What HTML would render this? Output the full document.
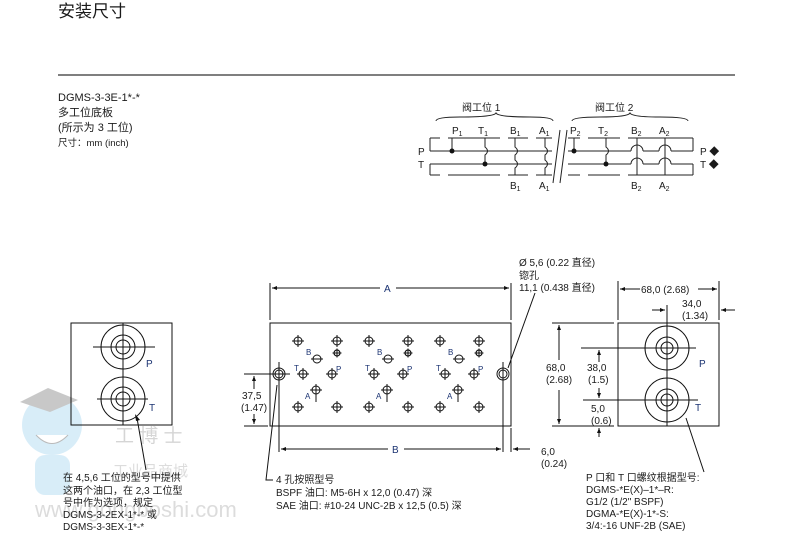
<!DOCTYPE html>
<html><head><meta charset="utf-8"><style>
body{margin:0;background:#fff}
svg{display:block}
text{font-family:"Liberation Sans","Noto Sans CJK SC",sans-serif;fill:#1a1a1a}
.b{fill:#1b3372}
</style></head><body>
<svg width="793" height="533" viewBox="0 0 793 533" xmlns="http://www.w3.org/2000/svg">
<defs>
<marker id="ar" viewBox="0 0 10 10" refX="10" refY="5" markerWidth="7" markerHeight="5" orient="auto-start-reverse"><path d="M0,1 L10,5 L0,9 z" fill="#111"/></marker>
<g id="ch"><circle r="4" fill="none" stroke="#111" stroke-width="1"/><line x1="-6" y1="0" x2="6" y2="0" stroke="#111"/><line x1="0" y1="-6" x2="0" y2="6" stroke="#111"/></g>
<g id="cs"><circle r="3" fill="none" stroke="#111" stroke-width="1.2"/><line x1="-4.5" y1="0" x2="4.5" y2="0" stroke="#111"/><line x1="0" y1="-4.5" x2="0" y2="4.5" stroke="#111"/></g>
</defs>
<!-- watermark -->
<g opacity="0.4">
<circle cx="52" cy="425" r="30" fill="#9fd3f0"/>
<path d="M20,402 L48,388 L78,400 L50,412 z" fill="#777"/>
<path d="M36,435 Q52,452 68,435" fill="#fff" stroke="#555"/>
<rect x="35" y="455" width="35" height="40" rx="10" fill="#9fd3f0"/>
<text x="115" y="442" font-size="19" style="fill:#999">工 博 士</text>
<text x="113" y="476" font-size="15" style="fill:#aaa">工业品商城</text>
<text x="35" y="517" font-size="22" style="fill:#aaa">www.gongboshi.com</text>
</g>

<text x="58" y="17" font-size="17">安装尺寸</text>
<line x1="58" y1="75" x2="735" y2="75" stroke="#555" stroke-width="1.5"/>
<text x="58" y="101" font-size="11">DGMS-3-3E-1*-*</text>
<text x="58" y="116" font-size="11">多工位底板</text>
<text x="58" y="131" font-size="11">(所示为 3 工位)</text>
<text x="58" y="146" font-size="9.5">尺寸：mm (inch)</text>

<!-- circuit -->
<g stroke="#222" stroke-width="1" fill="none">
<path d="M436,121 Q436,117 460,117 Q494,117 496,113 Q498,117 530,117 Q553,117 553,121"/>
<path d="M572,121 Q572,117 600,117 Q628,117 630,113 Q632,117 660,117 Q688,117 688,121"/>
<path d="M430,138 H440 M448,138 H500 M508,138 H528 M536,138 H552 M568,138 H580 M588,138 H620 M628,138 H693"/>
<path d="M430,175 H440 M448,175 H500 M508,175 H528 M536,175 H552 M568,175 H580 M588,175 H620 M628,175 H693"/>
<path d="M430,138 V151 M430,164 V175 M693,138 V151 M693,164 V175" />
<path d="M430,151 H552 M568,151 H631 M643,151 H659 M671,151 H693"/>
<path d="M430,164 H552 M568,164 H631 M643,164 H659 M671,164 H693"/>
<path d="M631,151 A6,6 0 0 1 643,151 M659,151 A6,6 0 0 1 671,151 M631,164 A6,6 0 0 1 643,164 M659,164 A6,6 0 0 1 671,164"/>
<path d="M452,138 V151 M574,138 V151 M485,138 V147 Q490,151 485,155 V164 M606,138 V147 Q611,151 606,155 V164"/>
<path d="M515,138 V147 Q520,151 515,155 V160 Q520,164 515,168 V175 M545,138 V147 Q550,151 545,155 V160 Q550,164 545,168 V175"/>
<path d="M637,138 V175 M665,138 V175"/>
<path d="M553,183 L560,130 M560,183 L567,130"/>
</g>
<g fill="#111"><circle cx="452" cy="151" r="2.5"/><circle cx="485" cy="164" r="2.5"/><circle cx="574" cy="151" r="2.5"/><circle cx="606" cy="164" r="2.5"/></g>
<g font-size="10">
<text x="462" y="111">阀工位 1</text><text x="595" y="111">阀工位 2</text>
<text x="452" y="134">P<tspan font-size="7" dy="2">1</tspan></text>
<text x="478" y="134">T<tspan font-size="7" dy="2">1</tspan></text>
<text x="510" y="134">B<tspan font-size="7" dy="2">1</tspan></text>
<text x="539" y="134">A<tspan font-size="7" dy="2">1</tspan></text>
<text x="570" y="134">P<tspan font-size="7" dy="2">2</tspan></text>
<text x="598" y="134">T<tspan font-size="7" dy="2">2</tspan></text>
<text x="631" y="134">B<tspan font-size="7" dy="2">2</tspan></text>
<text x="659" y="134">A<tspan font-size="7" dy="2">2</tspan></text>
<text x="510" y="189">B<tspan font-size="7" dy="2">1</tspan></text>
<text x="539" y="189">A<tspan font-size="7" dy="2">1</tspan></text>
<text x="631" y="189">B<tspan font-size="7" dy="2">2</tspan></text>
<text x="659" y="189">A<tspan font-size="7" dy="2">2</tspan></text>
<text x="418" y="155">P</text><text x="418" y="168">T</text>
<text x="700" y="155">P ◆</text><text x="700" y="168">T ◆</text>
</g>

<!-- left view -->
<g stroke="#111" fill="none" stroke-width="1">
<rect x="71" y="323" width="101" height="102"/>
<line x1="123" y1="323" x2="123" y2="425"/>
<circle cx="123" cy="347" r="22"/><circle cx="123" cy="347" r="12"/><circle cx="123" cy="347" r="7"/>
<circle cx="123" cy="399" r="22"/><circle cx="123" cy="399" r="12"/><circle cx="123" cy="399" r="7"/>
<line x1="93" y1="347" x2="155" y2="347"/><line x1="97" y1="399" x2="148" y2="399"/>
<line x1="137" y1="418" x2="146" y2="470"/>
</g>
<path d="M135,414 L140,420 L136,421 z" fill="#111"/>
<text x="146" y="367" font-size="10" class="b">P</text><text x="149" y="411" font-size="10" class="b">T</text>
<g font-size="10"><text x="63" y="481">在 4,5,6 工位的型号中提供</text><text x="63" y="494">这两个油口，在 2,3 工位型</text><text x="63" y="506">号中作为选项，规定</text><text x="63" y="518">DGMS-3-2EX-1*-* 或</text><text x="63" y="530">DGMS-3-3EX-1*-*</text></g>

<!-- middle plate -->
<g stroke="#111" fill="none" stroke-width="1">
<rect x="270" y="323" width="241" height="103"/>
<line x1="270" y1="283" x2="270" y2="320"/><line x1="511" y1="283" x2="511" y2="320"/>
<line x1="272" y1="288" x2="380" y2="288" marker-start="url(#ar)"/><line x1="396" y1="288" x2="509" y2="288" marker-end="url(#ar)"/>
<line x1="279" y1="362" x2="279" y2="452"/><line x1="503" y1="362" x2="503" y2="452"/><line x1="511" y1="428" x2="511" y2="452"/>
<line x1="281" y1="449" x2="388" y2="449" marker-start="url(#ar)"/><line x1="404" y1="449" x2="501" y2="449" marker-end="url(#ar)"/>
<line x1="530" y1="449" x2="513" y2="449" marker-end="url(#ar)"/>
<line x1="244" y1="374" x2="290" y2="374"/><line x1="244" y1="426" x2="268" y2="426"/>
<line x1="254" y1="389" x2="254" y2="376" marker-end="url(#ar)"/><line x1="254" y1="414" x2="254" y2="424" marker-end="url(#ar)"/>
<circle cx="279" cy="374" r="6"/><circle cx="279" cy="374" r="4"/>
<circle cx="503" cy="374" r="6"/><circle cx="503" cy="374" r="4"/>
<polyline points="277,385 266,480 273,480"/>
<line x1="535" y1="293" x2="508" y2="368"/>
</g>
<g id="st">
<use href="#ch" x="298" y="341"/><use href="#ch" x="337" y="341"/>
<use href="#cs" x="337" y="353"/>
<circle cx="317" cy="359" r="4" fill="none" stroke="#111"/><line x1="311" y1="359" x2="323" y2="359" stroke="#111"/>
<use href="#ch" x="303" y="374"/><use href="#ch" x="332" y="374"/>
<use href="#ch" x="316" y="390"/><line x1="316" y1="390" x2="316" y2="402" stroke="#111"/>
<use href="#ch" x="298" y="407"/><use href="#ch" x="337" y="407"/>
<g font-size="8"><text x="306" y="355" class="b">B</text><text x="294" y="371" class="b">T</text><text x="336" y="372" class="b">P</text><text x="305" y="399" class="b">A</text></g>
</g>
<use href="#st" x="71"/><use href="#st" x="142"/>
<g font-size="10">
<text x="384" y="292" class="b">A</text><text x="392" y="453" class="b">B</text>
<text x="541" y="455">6,0</text><text x="541" y="467">(0.24)</text>
<text x="242" y="399">37,5</text><text x="241" y="411">(1.47)</text>
<text x="276" y="483">4 孔按照型号</text>
<text x="276" y="496">BSPF 油口: M5-6H x 12,0 (0.47) 深</text>
<text x="276" y="509">SAE 油口: #10-24 UNC-2B x 12,5 (0.5) 深</text>
<text x="519" y="266">Ø 5,6 (0.22 直径)</text>
<text x="519" y="279">锪孔</text>
<text x="519" y="291">11,1 (0.438 直径)</text>
</g>

<!-- right view -->
<g stroke="#111" fill="none" stroke-width="1">
<rect x="618" y="323" width="101" height="103"/>
<line x1="667" y1="305" x2="667" y2="426"/>
<circle cx="667" cy="348" r="22"/><circle cx="667" cy="348" r="11"/><circle cx="667" cy="348" r="6"/>
<circle cx="667" cy="400" r="22"/><circle cx="667" cy="400" r="11"/><circle cx="667" cy="400" r="6"/>
<line x1="581" y1="348" x2="696" y2="348"/><line x1="583" y1="400" x2="698" y2="400"/>
<line x1="618" y1="281" x2="618" y2="320"/><line x1="719" y1="281" x2="719" y2="320"/>
<line x1="640" y1="289" x2="620" y2="289" marker-end="url(#ar)"/><line x1="698" y1="289" x2="717" y2="289" marker-end="url(#ar)"/>
<line x1="652" y1="310" x2="665" y2="310" marker-end="url(#ar)"/><line x1="735" y1="310" x2="721" y2="310" marker-end="url(#ar)"/>
<line x1="552" y1="323" x2="614" y2="323"/><line x1="552" y1="426" x2="614" y2="426"/>
<line x1="559" y1="360" x2="559" y2="325" marker-end="url(#ar)"/><line x1="559" y1="390" x2="559" y2="424" marker-end="url(#ar)"/>
<line x1="599" y1="362" x2="599" y2="350" marker-end="url(#ar)"/><line x1="599" y1="388" x2="599" y2="398" marker-end="url(#ar)"/>
<line x1="599" y1="437" x2="599" y2="428" marker-end="url(#ar)"/>
<line x1="686" y1="418" x2="704" y2="472"/>
</g>
<g font-size="10">
<text x="641" y="293">68,0 (2.68)</text>
<text x="682" y="307">34,0</text><text x="682" y="319">(1.34)</text>
<text x="546" y="371">68,0</text><text x="546" y="383">(2.68)</text>
<text x="587" y="371">38,0</text><text x="588" y="383">(1.5)</text>
<text x="591" y="412">5,0</text><text x="591" y="424">(0.6)</text>
<text x="699" y="367" class="b">P</text><text x="695" y="411" class="b">T</text>
<text x="586" y="481">P 口和 T 口螺纹根据型号:</text>
<text x="586" y="493">DGMS-*E(X)–1*–R:</text>
<text x="586" y="505">G1/2 (1/2" BSPF)</text>
<text x="586" y="517">DGMA-*E(X)-1*-S:</text>
<text x="586" y="529">3/4:-16 UNF-2B (SAE)</text>
</g>
</svg>
</body></html>
